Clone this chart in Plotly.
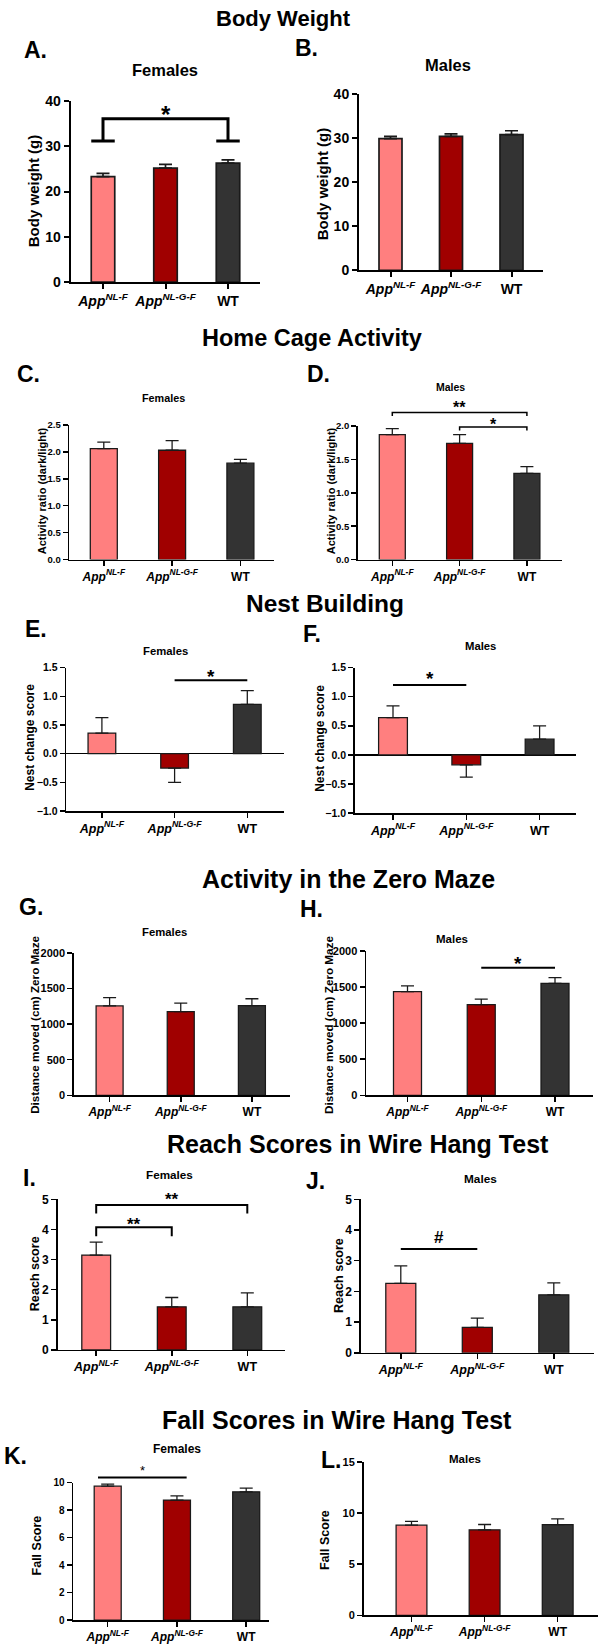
import plotly.graph_objects as go

W, H = 606, 1652

# ---------------- data ----------------
categories = ["App NL-F", "App NL-G-F", "WT"]
cat_labels = ["<i>App</i><sup><i>NL-F</i></sup>", "<i>App</i><sup><i>NL-G-F</i></sup>", "WT"]
bar_colors = ["#FF7F7F", "#A00000", "#333333"]

bw_f = [23.3, 25.2, 26.3]
bw_f_sem = [0.7, 0.8, 0.7]
bw_m = [29.9, 30.4, 30.8]
bw_m_sem = [0.5, 0.6, 0.9]
hc_f = [2.06, 2.03, 1.79]
hc_f_sem = [0.12, 0.18, 0.07]
hc_m = [1.87, 1.74, 1.29]
hc_m_sem = [0.09, 0.13, 0.10]
nest_f = [0.36, -0.25, 0.86]
nest_f_sem = [0.27, 0.25, 0.24]
nest_m = [0.64, -0.17, 0.27]
nest_m_sem = [0.20, 0.21, 0.23]
zm_f = [1255, 1175, 1260]
zm_f_sem = [115, 120, 95]
zm_m = [1435, 1255, 1550]
zm_m_sem = [80, 77, 80]
reach_f = [3.15, 1.43, 1.43]
reach_f_sem = [0.43, 0.31, 0.46]
reach_m = [2.26, 0.83, 1.89]
reach_m_sem = [0.57, 0.30, 0.39]
fall_f = [9.74, 8.73, 9.33]
fall_f_sem = [0.14, 0.31, 0.26]
fall_m = [8.80, 8.35, 8.85]
fall_m_sem = [0.38, 0.52, 0.57]

bw_ticks = [0, 10, 20, 30, 40]
hc_f_ticks = [0, 0.5, 1.0, 1.5, 2.0, 2.5]
hc_m_ticks = [0, 0.5, 1.0, 1.5, 2.0]
nest_ticks = [-1.0, -0.5, 0, 0.5, 1.0, 1.5]
zm_ticks = [0, 500, 1000, 1500, 2000]
reach_ticks = [0, 1, 2, 3, 4, 5]
fall_f_ticks = [0, 2, 4, 6, 8, 10]
fall_m_ticks = [0, 5, 10, 15]

# significance: (from, to, leg end, bar level, label, label level)
sig_bw_f = [(0, 2, 31.2, 36.1, "*", 38.2)]
sig_hc_m = [(0, 2, 2.15, 2.2, "**", 2.33), (1, 2, 1.93, 1.985, "*", 2.07)]
sig_nest_f = [(1, 2, None, 1.28, "*", 1.42)]
sig_nest_m = [(0, 1, None, 1.2, "*", 1.38)]
sig_zm_m = [(1, 2, None, 1765, "*", 1880)]
sig_reach_f = [(0, 2, 4.53, 4.81, "**", 5.13), (0, 1, 3.77, 4.07, "**", 4.29)]
sig_reach_m = [(0, 1, None, 3.38, "#", 3.76)]
sig_fall_f = [(-0.14, 1.14, None, 10.36, "*", 11.05)]

section_titles = ["Body Weight", "Home Cage Activity", "Nest Building",
                  "Activity in the Zero Maze", "Reach Scores in Wire Hang Test",
                  "Fall Scores in Wire Hang Test"]

panels = [
    dict(key="A", vals=bw_f, sem=bw_f_sem, ticks=bw_ticks, fmt="d", sig=sig_bw_f, title="Females", ytitle="Body weight (g)"),
    dict(key="B", vals=bw_m, sem=bw_m_sem, ticks=bw_ticks, fmt="d", sig=[], title="Males", ytitle="Body weight (g)"),
    dict(key="C", vals=hc_f, sem=hc_f_sem, ticks=hc_f_ticks, fmt=".1f", sig=[], title="Females", ytitle="Activity ratio (dark/light)"),
    dict(key="D", vals=hc_m, sem=hc_m_sem, ticks=hc_m_ticks, fmt=".1f", sig=sig_hc_m, title="Males", ytitle="Activity ratio (dark/light)"),
    dict(key="E", vals=nest_f, sem=nest_f_sem, ticks=nest_ticks, fmt=".1f", sig=sig_nest_f, title="Females", ytitle="Nest change score"),
    dict(key="F", vals=nest_m, sem=nest_m_sem, ticks=nest_ticks, fmt=".1f", sig=sig_nest_m, title="Males", ytitle="Nest change score"),
    dict(key="G", vals=zm_f, sem=zm_f_sem, ticks=zm_ticks, fmt="d", sig=[], title="Females", ytitle="Distance moved (cm) Zero Maze"),
    dict(key="H", vals=zm_m, sem=zm_m_sem, ticks=zm_ticks, fmt="d", sig=sig_zm_m, title="Males", ytitle="Distance moved (cm) Zero Maze"),
    dict(key="I", vals=reach_f, sem=reach_f_sem, ticks=reach_ticks, fmt="d", sig=sig_reach_f, title="Females", ytitle="Reach score"),
    dict(key="J", vals=reach_m, sem=reach_m_sem, ticks=reach_ticks, fmt="d", sig=sig_reach_m, title="Males", ytitle="Reach score"),
    dict(key="K", vals=fall_f, sem=fall_f_sem, ticks=fall_f_ticks, fmt="d", sig=sig_fall_f, title="Females", ytitle="Fall Score"),
    dict(key="L", vals=fall_m, sem=fall_m_sem, ticks=fall_m_ticks, fmt="d", sig=[], title="Males", ytitle="Fall Score"),
]

# ---------------- layout geometry (pixels) ----------------
REG = "Liberation Sans, Arial, sans-serif"
NAR = "Liberation Sans Narrow, Arial Narrow, Liberation Sans, sans-serif"

geom = {
    "A": dict(x0=70.7, b1=103, b3=228, x1=260, yt=94, yb=276.7, bw=23.5, lw=2.0, font=REG, tfs=14, xfs=14,
              letter=(35.6, 42), tpos=(165, 63), tfs2=16.5, ypos=(33, 185), yfs=15, sfs=24, siglw=3, feet=True),
    "B": dict(x0=359, b1=390.5, b3=511.5, x1=543, yt=87, yb=265, bw=23, lw=2.0, font=REG, tfs=14, xfs=14,
              letter=(306, 40), tpos=(448, 58), tfs2=16.5, ypos=(322, 178), yfs=15, sfs=24, siglw=3, feet=False),
    "C": dict(x0=69.2, b1=103.8, b3=240.4, x1=273.8, yt=421, yb=557, bw=27, lw=1.5, font=NAR, tfs=9.5, xfs=12,
              letter=(28, 370), tpos=(163.5, 394), tfs2=10.8, ypos=(42, 488), yfs=11, sfs=16, siglw=1.5, feet=False),
    "D": dict(x0=357.7, b1=392.3, b3=526.9, x1=561.5, yt=422, yb=557, bw=26, lw=1.5, font=NAR, tfs=9.5, xfs=12,
              letter=(318, 370), tpos=(450, 383), tfs2=10.5, ypos=(331, 488), yfs=11, sfs=16, siglw=1.5, feet=False),
    "E": dict(x0=66.2, b1=101.9, b3=247.3, x1=283.8, yt=666, yb=811, bw=27.7, lw=1.5, font=NAR, tfs=10.5, xfs=12.5,
              letter=(35.8, 627), tpos=(165.4, 649), tfs2=11.3, ypos=(30, 737), yfs=12, sfs=19, siglw=2, feet=False),
    "F": dict(x0=354.6, b1=393, b3=539.6, x1=576, yt=666, yb=813, bw=28.8, lw=1.5, font=NAR, tfs=10.5, xfs=12.5,
              letter=(312, 632), tpos=(480.8, 644), tfs2=11.3, ypos=(320, 737), yfs=12, sfs=19, siglw=2, feet=False),
    "G": dict(x0=73.8, b1=109.6, b3=251.9, x1=290.4, yt=954, yb=1098, bw=27, lw=1.5, font=NAR, tfs=11, xfs=12,
              letter=(30.8, 908), tpos=(164.6, 933), tfs2=11.3, ypos=(33.8, 1027), yfs=11.7, sfs=19, siglw=2, feet=False),
    "H": dict(x0=366, b1=407.5, b3=555, x1=593, yt=952, yb=1098, bw=28, lw=1.5, font=NAR, tfs=11, xfs=12,
              letter=(311.5, 910), tpos=(452.3, 940), tfs2=11.5, ypos=(328, 1027), yfs=11.7, sfs=19, siglw=2, feet=False),
    "I": dict(x0=57.7, b1=96.2, b3=247.3, x1=285.4, yt=1203, yb=1355, bw=28.8, lw=1.5, font=NAR, tfs=12, xfs=12.5,
              letter=(29.6, 1181), tpos=(169.2, 1178), tfs2=11.7, ypos=(34.6, 1278), yfs=12.6, sfs=17, siglw=2, feet=False),
    "J": dict(x0=360.8, b1=400.8, b3=553.8, x1=594.2, yt=1203, yb=1358, bw=30, lw=1.5, font=NAR, tfs=12, xfs=12.5,
              letter=(315.4, 1184), tpos=(480.8, 1182), tfs2=11.8, ypos=(338.5, 1280), yfs=12.6, sfs=17, siglw=2, feet=False),
    "K": dict(x0=73.1, b1=107.7, b3=246.2, x1=269.2, yt=1489, yb=1628, bw=27, lw=1.5, font=NAR, tfs=10, xfs=12,
              letter=(15.4, 1462), tpos=(177, 1455), tfs2=12, ypos=(36.5, 1553), yfs=12.5, sfs=13, siglw=2, feet=False),
    "L": dict(x0=363.5, b1=411.5, b3=557.7, x1=598, yt=1468, yb=1623, bw=30.8, lw=1.5, font=REG, tfs=11, xfs=12,
              letter=(330.8, 1466), tpos=(465.4, 1465), tfs2=11.5, ypos=(325, 1547), yfs=12.5, sfs=16, siglw=2, feet=False),
}
section_pos = [(283.5, 11), (311.5, 333), (325, 601), (348, 880), (357.7, 1147.5), (336.5, 1426)]
section_size = [22, 23.5, 24.5, 25, 25, 25]

EXT = 45  # extra pixels above each panel for significance marks

fig = go.Figure()
layout = dict(width=W, height=H, margin=dict(l=0, r=0, t=0, b=0),
              paper_bgcolor="white", plot_bgcolor="rgba(0,0,0,0)", showlegend=False,
              bargap=0)
annotations = []


def px_x(x):
    return x / W


def px_y(y):
    return 1 - y / H


for i, p in enumerate(panels, start=1):
    g = geom[p["key"]]
    s = (g["b3"] - g["b1"]) / 2.0
    xr = [(g["x0"] - g["b1"]) / s, (g["x1"] - g["b1"]) / s]
    ymin, ymax = p["ticks"][0], p["ticks"][-1]
    per_px = (ymax - ymin) / (g["yb"] - g["yt"])
    xa = "x" if i == 1 else f"x{i}"
    ya = "y" if i == 1 else f"y{i}"
    yo = f"y{i + 12}"
    xname = "xaxis" if i == 1 else f"xaxis{i}"
    yname = "yaxis" if i == 1 else f"yaxis{i}"
    oname = f"yaxis{i + 12}"

    vals, sem = p["vals"], p["sem"]
    plus = [e if v >= 0 else 0 for v, e in zip(vals, sem)]
    minus = [0 if v >= 0 else e for v, e in zip(vals, sem)]
    blw = g["lw"] * 0.85
    fig.add_trace(go.Bar(
        x=[0, 1, 2], y=vals, width=g["bw"] / s,
        marker=dict(color=bar_colors, line=dict(color="#1a1a1a", width=blw)),
        error_y=dict(type="data", symmetric=False, array=plus, arrayminus=minus,
                     color="#1a1a1a", thickness=blw, width=6.5),
        xaxis=xa, yaxis=ya, hoverinfo="skip", showlegend=False))

    tfont = dict(family=g["font"], size=g["tfs"], color="black", weight="bold")
    xfont = dict(family=g["font"], size=g["xfs"], color="black", weight="bold")
    layout[xname] = dict(domain=[px_x(g["x0"]), px_x(g["x1"])], range=xr, anchor=ya,
                         showline=True, linecolor="black", linewidth=g["lw"],
                         ticks="outside", ticklen=5, tickwidth=g["lw"], tickcolor="black",
                         tickvals=[0, 1, 2], ticktext=cat_labels, tickfont=xfont,
                         showgrid=False, zeroline=False, fixedrange=True)
    layout[yname] = dict(domain=[px_y(g["yb"]), px_y(g["yt"])], range=[ymin, ymax], anchor=xa,
                         showline=True, linecolor="black", linewidth=g["lw"],
                         ticks="outside", ticklen=5, tickwidth=g["lw"], tickcolor="black",
                         tickvals=p["ticks"], tickformat=p["fmt"], tickfont=tfont,
                         showgrid=False, zeroline=(ymin < 0), zerolinecolor="black",
                         zerolinewidth=g["lw"], fixedrange=True)
    layout[oname] = dict(domain=[px_y(g["yb"]), px_y(max(g["yt"] - EXT, 0))],
                         range=[ymin, ymax + EXT * per_px], anchor=xa, visible=False,
                         fixedrange=True)

    hw = g["bw"] / s / 2
    for (a, b, leg, top, label, ly) in p["sig"]:
        if leg is None:
            xs, ys = [a, b], [top, top]
        elif g["feet"]:
            xs = [a - hw, a + hw, None, a, a, b, b, None, b - hw, b + hw]
            ys = [leg, leg, None, leg, top, top, leg, None, leg, leg]
        else:
            xs, ys = [a, a, b, b], [leg, top, top, leg]
        fig.add_trace(go.Scatter(x=xs, y=ys, mode="lines",
                                 line=dict(color="black", width=g["siglw"]),
                                 xaxis=xa, yaxis=yo, hoverinfo="skip", showlegend=False))
        annotations.append(dict(x=(a + b) / 2, y=ly, xref=xa, yref=yo, text=label,
                                showarrow=False, xanchor="center", yanchor="middle",
                                yshift=-0.22 * g["sfs"] if label != "#" else 0,
                                font=dict(family=REG, size=g["sfs"], color="black",
                                          weight="normal" if p["key"] == "K" else "bold")))

    annotations.append(dict(x=px_x(g["letter"][0]), y=px_y(g["letter"][1]), xref="paper", yref="paper",
                            text=p["key"] + ".", showarrow=False, xanchor="center", yanchor="middle",
                            font=dict(family=REG, size=23, color="black", weight="bold")))
    annotations.append(dict(x=px_x(g["tpos"][0]), y=px_y(g["tpos"][1]), xref="paper", yref="paper",
                            text=p["title"], showarrow=False, xanchor="center", yanchor="middle",
                            font=dict(family=REG, size=g["tfs2"], color="black", weight="bold")))
    annotations.append(dict(x=px_x(g["ypos"][0]), y=px_y(g["ypos"][1]), xref="paper", yref="paper",
                            text=p["ytitle"], showarrow=False, xanchor="center", yanchor="middle",
                            textangle=-90,
                            font=dict(family=REG, size=g["yfs"], color="black", weight="bold")))

for t, (sx, sy), sz in zip(section_titles, section_pos, section_size):
    annotations.append(dict(x=px_x(sx), y=px_y(sy), xref="paper", yref="paper", text=t,
                            showarrow=False, xanchor="center", yanchor="middle",
                            font=dict(family=REG, size=sz, color="black", weight="bold")))

layout["annotations"] = annotations
fig.update_layout(**layout)
fig.write_html("out.html",
               config={"displayModeBar": False, "staticPlot": True},
               post_script="document.body.style.margin='0';document.body.style.overflow='hidden';")
